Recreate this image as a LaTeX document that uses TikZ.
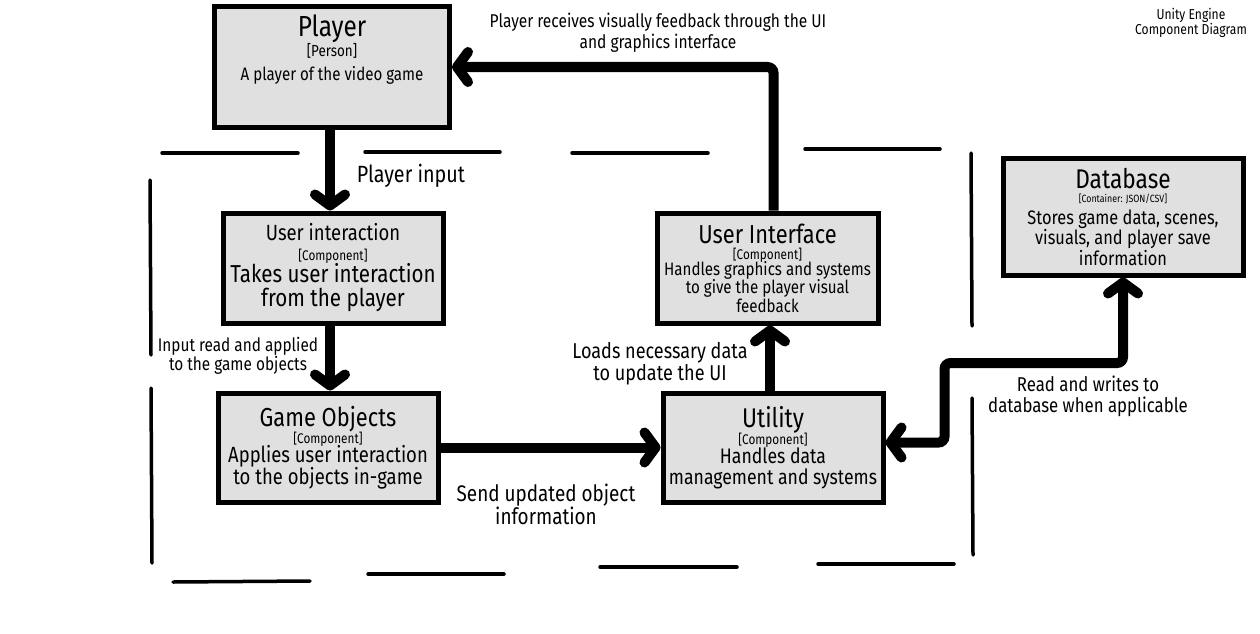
\documentclass[tikz,border=0pt]{standalone}
\usepackage{fontspec}
\setmainfont{Fira Sans}[FakeStretch=0.84]
\usetikzlibrary{arrows.meta}
\definecolor{boxgray}{RGB}{224, 224, 224}
\newcommand{\fsz}[2]{\fontsize{#1}{#2}\selectfont}

\begin{document}
\begin{tikzpicture}[x=1pt, y=-1pt,
  compbox/.style={draw=black, fill=boxgray, line width=5pt, align=center, inner sep=4pt},
  flowline/.style={line width=10pt, -{Straight Barb[length=11pt, width=30pt, line cap=round, line join=round]}},
  bothline/.style={line width=10pt, rounded corners=6pt, {Straight Barb[length=11pt, width=30pt, line cap=round, line join=round]}-{Straight Barb[length=11pt, width=30pt, line cap=round, line join=round]}},
  frameline/.style={line width=3.5pt, line cap=round},
  flowlabel/.style={align=center, inner sep=0pt}]
  \useasboundingbox (0,0) rectangle (1260,634);

  % Boundary
  \draw[frameline] (162,153) -- (298,153);
  \draw[frameline] (365,152) -- (500,152);
  \draw[frameline] (572,153) -- (708,153);
  \draw[frameline] (805,149) -- (940,149);
  \draw[frameline] (150,180) -- (151,355);
  \draw[frameline] (151,388) -- (152,563);
  \draw[frameline] (971,153) -- (972,326);
  \draw[frameline] (972,398) -- (973,555);
  \draw[frameline] (173,582) -- (310,581);
  \draw[frameline] (368,574) -- (504,574);
  \draw[frameline] (600,567) -- (737,567);
  \draw[frameline] (818,564) -- (954,564);

  % Components
  \node[compbox, minimum width=235, minimum height=120, text depth=38pt, font=\fsz{18}{21}] (player) at (332, 67) {
    {\fsz{29}{29}Player}\\[-1pt]
    {\fsz{16}{16}[Person]}\\[3pt]
    A player of the video game
  };

  \node[compbox, minimum width=220, minimum height=110, font=\fsz{24.5}{24}] (userinput) at (333, 268) {
    {\fsz{22}{22}User interaction}\\[-4pt]
    {\fsz{14}{14}[Component]}\\[-2pt]
    Takes user interaction\\
    from the player
  };

  \node[compbox, minimum width=220, minimum height=109, font=\fsz{22}{22}] (gameobj) at (328, 447.5) {
    {\fsz{26}{26}Game Objects}\\[-5pt]
    {\fsz{14}{14}[Component]}\\[-3pt]
    Applies user interaction\\
    to the objects in-game
  };

  \node[compbox, minimum width=221, minimum height=110, font=\fsz{18}{18.5}] (userui) at (767.5, 268) {
    {\fsz{26}{26}User Interface}\\[-2pt]
    {\fsz{14}{14}[Component]}\\[-3pt]
    Handles graphics and systems\\
    to give the player visual\\
    feedback
  };

  \node[compbox, minimum width=220, minimum height=109, font=\fsz{21}{21}] (utility) at (773, 447.5) {
    {\fsz{27}{27}Utility}\\[-4pt]
    {\fsz{14}{14}[Component]}\\[-2pt]
    Handles data\\
    management and systems
  };

  \node[compbox, minimum width=240, minimum height=117, font=\fsz{19.5}{20.5}] (database) at (1123, 216.5) {
    {\fsz{27}{27}Database}\\[-6pt]
    {\fsz{10.5}{10.5}[Container: JSON/CSV]}\\[1pt]
    Stores game data, scenes,\\
    visuals, and player save\\
    information
  };

  % Connectors
  \draw[flowline] (player.south -| 330,0) -- (userinput.north -| 330,0);
  \draw[flowline] (userinput.south -| 330,0) -- (gameobj.north -| 330,0);
  \draw[flowline] (gameobj) -- (utility);
  \draw[flowline] (utility.north -| 770,0) -- (userui.south -| 770,0);
  \draw[flowline, rounded corners=6pt] ([xshift=6]userui.north) |- (player.east);
  \draw[bothline] ([yshift=5]utility.east) -- ++(59,0) |- (database.south |- 0,363) -- (database.south);

  % Labels
  \node[flowlabel, font=\fsz{18.5}{21}] (lbfeedback) at (658, 33) {Player receives visually feedback through the UI\\and graphics interface};
  \node[flowlabel, font=\fsz{23.5}{23}] (lbinput) at (411, 176) {Player input};
  \node[flowlabel, font=\fsz{18.3}{18.5}] (lbapply) at (238, 356) {Input read and applied\\to the game objects};
  \node[flowlabel, font=\fsz{22.5}{23}] (lbsend) at (546, 504) {Send updated object\\information};
  \node[flowlabel, font=\fsz{21.5}{22}] (lbloads) at (660, 364) {Loads necessary data\\to update the UI};
  \node[flowlabel, font=\fsz{20}{21}] (lbreadwrite) at (1088, 396) {Read and writes to\\database when applicable};
  \node[flowlabel, font=\fsz{14.4}{14.5}] (lbtitle) at (1191, 23) {Unity Engine\\Component Diagram};
\end{tikzpicture}
\end{document}
